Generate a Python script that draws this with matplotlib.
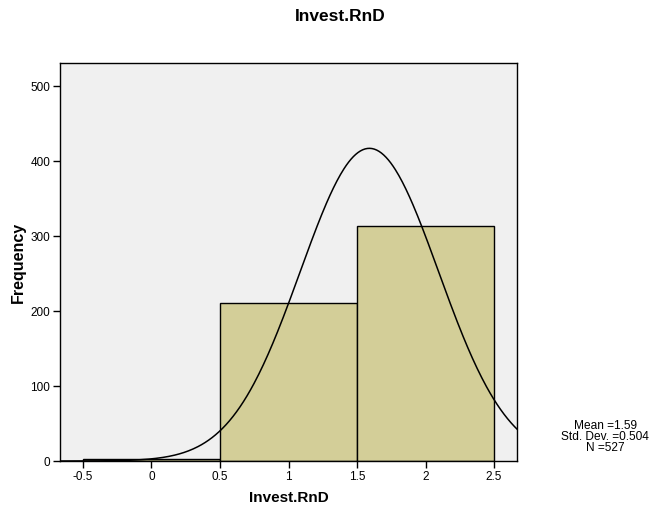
import numpy as np
import matplotlib.pyplot as plt

plt.rcParams['font.family'] = ['Liberation Sans', 'DejaVu Sans']

# histogram of Invest.RnD (bin centres 0, 1, 2)
bin_edges = [-0.5, 0.5, 1.5, 2.5]
counts = [3, 211, 313]
mean = 1.59
std = 0.504
n = 527

fig = plt.figure(figsize=(6.5, 5.08), dpi=100)
ax = fig.add_axes([0.0923, 0.0925, 0.7031, 0.7835])
ax.set_facecolor('#f0f0f0')

lefts = bin_edges[:-1]
widths = np.diff(bin_edges)
ax.bar(lefts, counts, width=widths, align='edge', color='#d3ce98',
       edgecolor='black', linewidth=1.0, zorder=2)

# normal curve scaled to the counts
xs = np.linspace(-0.7, 2.7, 400)
bw = widths[0]
ys = n * bw / (std * np.sqrt(2 * np.pi)) * np.exp(-(xs - mean) ** 2 / (2 * std ** 2))
ax.plot(xs, ys, color='black', linewidth=1.1, zorder=3)

ax.set_xlim(-0.667, 2.667)
ax.set_ylim(0, 531)
ax.set_xticks([-0.5, 0, 0.5, 1, 1.5, 2, 2.5])
ax.set_xticklabels(['-0.5', '0', '0.5', '1', '1.5', '2', '2.5'])
ax.set_yticks([0, 100, 200, 300, 400, 500])
ax.tick_params(direction='out', length=5, width=1, labelsize=8.5, pad=2)
for s in ax.spines.values():
    s.set_linewidth(1.0)

ax.set_xlabel('Invest.RnD', fontsize=11, fontweight='bold', labelpad=6)
ax.set_ylabel('Frequency', fontsize=11.5, fontweight='bold', labelpad=3)
fig.text(0.523, 0.967, 'Invest.RnD', ha='center', va='center',
         fontsize=12.5, fontweight='bold')

fig.text(0.931, 0.140, 'Mean =%.2f\nStd. Dev. =%.3f\nN =%d' % (mean, std, n),
         ha='center', va='center', fontsize=8.6, linespacing=0.9)

fig.savefig('out.png', dpi=100)
